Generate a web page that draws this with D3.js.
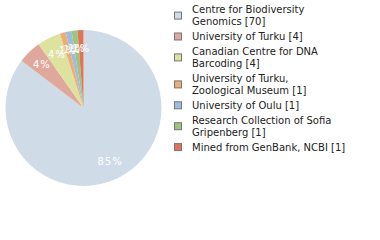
<!DOCTYPE html>
<html><head><meta charset="utf-8">
<script src="https://cdn.jsdelivr.net/npm/d3@7"></script>
<style>body{margin:0;background:#fff;} svg{display:block;}</style>
</head><body>
<script>
const labels = [["Centre for Biodiversity","Genomics [70]"],["University of Turku [4]"],["Canadian Centre for DNA","Barcoding [4]"],["University of Turku,","Zoological Museum [1]"],["University of Oulu [1]"],["Research Collection of Sofia","Gripenberg [1]"],["Mined from GenBank, NCBI [1]"]];
const values = [70,4,4,1,1,1,1];
const colors = ["#cfdbe6","#e0a89c","#dde29e","#f0ac74","#9dbde0","#9fc47c","#e07458"];

const W=380,H=240;
const svg=d3.select("body").append("svg").attr("width",W).attr("height",H);
const cx=83.5, cy=108, R=78;
const total=d3.sum(values);
const pie=d3.pie().sort(null).value(d=>d)(values);
const arc=d3.arc().innerRadius(0).outerRadius(R);
const labelArc=d3.arc().innerRadius(60).outerRadius(60);
const g=svg.append("g").attr("transform",`translate(${cx},${cy})`);
g.selectAll("path").data(pie).join("path").attr("d",arc).attr("fill",(d,i)=>colors[i]);
g.selectAll("text").data(pie).join("text")
 .attr("transform",d=>`translate(${labelArc.centroid(d)})`)
 .attr("text-anchor","middle").attr("dy","0.35em")
 .attr("fill","#fff").attr("font-family","DejaVu Sans").attr("font-size",10).attr("letter-spacing",1)
 .text(d=>Math.floor(d.value/total*100)+"%");

const lg=svg.append("g");
const lineH=12.2, gap=2.6;
let y=9.5;
labels.forEach((lines,i)=>{
  const n=lines.length;
  const mid=y+(n-1)*lineH/2;
  lg.append("rect").attr("x",174.5).attr("y",mid-3.5).attr("width",7).attr("height",7)
    .attr("fill",colors[i]).attr("stroke","#777").attr("stroke-width",1);
  lines.forEach((t,j)=>{
    lg.append("text").attr("x",192).attr("y",y+j*lineH).attr("dy","0.35em")
      .attr("font-family","DejaVu Sans").attr("font-size",10).attr("fill","#222").text(t);
  });
  y+=n*lineH+gap;
});
</script>
</body></html>
